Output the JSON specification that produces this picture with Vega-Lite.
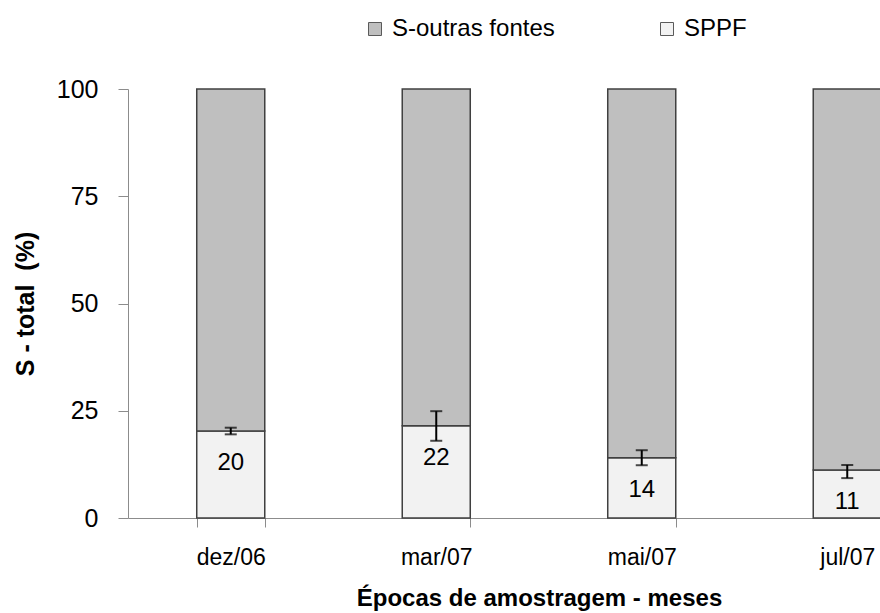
{
  "$schema": "https://vega.github.io/schema/vega-lite/v6.json",
  "width": 752,
  "height": 429,
  "autosize": {"type": "none"},
  "padding": {"left": 128, "top": 89, "right": 0, "bottom": 95},
  "background": "white",
  "config": {
    "view": {"stroke": null},
    "font": "Liberation Sans",
    "axis": {"grid": false, "domainColor": "#8c8c8c", "tickColor": "#8c8c8c", "labelColor": "black", "titleColor": "black", "labelFont": "Liberation Sans", "titleFont": "Liberation Sans"}
  },
  "datasets": {
    "bars": [
      {"epoca": "dez/06", "serie": "SPPF", "valor": 20.3},
      {"epoca": "dez/06", "serie": "S-outras fontes", "valor": 79.7},
      {"epoca": "mar/07", "serie": "SPPF", "valor": 21.5},
      {"epoca": "mar/07", "serie": "S-outras fontes", "valor": 78.5},
      {"epoca": "mai/07", "serie": "SPPF", "valor": 14.05},
      {"epoca": "mai/07", "serie": "S-outras fontes", "valor": 85.95},
      {"epoca": "jul/07", "serie": "SPPF", "valor": 11.2},
      {"epoca": "jul/07", "serie": "S-outras fontes", "valor": 88.8}
    ],
    "erros": [
      {"epoca": "dez/06", "sppf": 20.3, "baixo": 19.5, "alto": 21.05, "rotulo": "20"},
      {"epoca": "mar/07", "sppf": 21.5, "baixo": 18.0, "alto": 24.9, "rotulo": "22"},
      {"epoca": "mai/07", "sppf": 14.05, "baixo": 12.3, "alto": 15.8, "rotulo": "14"},
      {"epoca": "jul/07", "sppf": 11.2, "baixo": 9.3, "alto": 12.35, "rotulo": "11"}
    ]
  },
  "encoding": {
    "x": {
      "field": "epoca", "type": "nominal",
      "sort": ["dez/06", "mar/07", "mai/07", "jul/07"],
      "scale": {"range": [0, 822], "paddingInner": 0.669, "paddingOuter": 0.3345},
      "axis": {"title": "Épocas de amostragem - meses", "labelAngle": 0, "labelFontSize": 23, "tickBand": "extent", "tickSize": 9, "labelPadding": 19, "titleFontSize": 24, "titleFontWeight": "bold", "titlePadding": 17}
    }
  },
  "layer": [
    {
      "data": {"name": "bars"},
      "mark": {"type": "bar", "stroke": "#404040", "strokeWidth": 1.5},
      "encoding": {
        "y": {
          "field": "valor", "type": "quantitative", "stack": "zero",
          "scale": {"domain": [0, 100], "nice": false},
          "axis": {"title": "S - total \u00a0(%)", "values": [0, 25, 50, 75, 100], "labelFontSize": 25, "tickSize": 10, "labelPadding": 20, "titleFontSize": 25, "titleFontWeight": "bold", "titlePadding": 18}
        },
        "color": {
          "field": "serie", "type": "nominal",
          "scale": {"domain": ["S-outras fontes", "SPPF"], "range": ["#bfbfbf", "#f2f2f2"]},
          "legend": {
            "title": null, "orient": "none", "direction": "horizontal",
            "legendX": 235, "legendY": -72,
            "symbolType": "square", "symbolSize": 169, "symbolStrokeColor": "#5a5a5a", "symbolStrokeWidth": 1,
            "labelFontSize": 24, "labelFont": "Liberation Sans", "labelColor": "black", "labelOffset": 5, "labelLimit": 400,
            "columnPadding": 100, "padding": 0
          }
        },
        "order": {"field": "serie", "sort": "descending"}
      }
    },
    {
      "data": {"name": "erros"},
      "mark": {"type": "rule", "color": "black", "strokeWidth": 2},
      "encoding": {"y": {"field": "baixo", "type": "quantitative"}, "y2": {"field": "alto"}}
    },
    {
      "data": {"name": "erros"},
      "mark": {"type": "tick", "color": "black", "thickness": 2, "size": 12},
      "encoding": {"y": {"field": "baixo", "type": "quantitative"}}
    },
    {
      "data": {"name": "erros"},
      "mark": {"type": "tick", "color": "black", "thickness": 2, "size": 12},
      "encoding": {"y": {"field": "alto", "type": "quantitative"}}
    },
    {
      "data": {"name": "erros"},
      "mark": {"type": "text", "fontSize": 24, "dy": 32, "color": "black", "baseline": "middle"},
      "encoding": {"y": {"field": "sppf", "type": "quantitative"}, "text": {"field": "rotulo"}}
    }
  ]
}
